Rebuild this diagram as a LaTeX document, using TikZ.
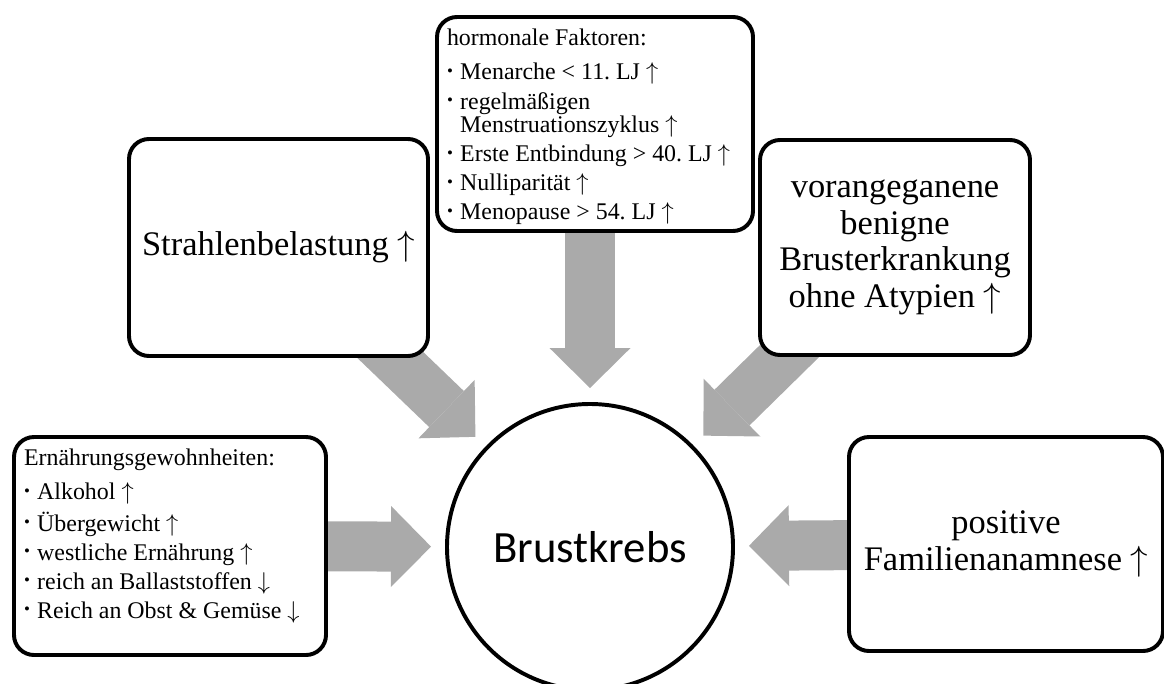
\documentclass[tikz,border=0pt]{standalone}
\usepackage{fontspec}
\setmainfont{Liberation Serif}
\newfontfamily\calibrifont{Carlito}
\usetikzlibrary{arrows.meta, backgrounds}
\definecolor{pfeilgrau}{RGB}{170,170,170}
\frenchspacing

% Pfeile im Text
\newcommand{\hoch}{$\uparrow$}
\newcommand{\runter}{$\downarrow$}
% Aufzaehlung in den Kaesten
\newcommand{\bull}{\raisebox{2.4pt}{\fontsize{12pt}{12pt}\selectfont •}}
\newcommand{\punkt}[1]{\par\hangindent=0.33cm\hangafter=1\noindent\makebox[0.33cm][l]{\bull}#1}
\newcommand{\liste}[4]{\begin{minipage}[t][#2][t]{#1}\raggedright\setlength{\parskip}{4pt}%
  #3\par\vspace{4pt}#4\end{minipage}}

\begin{document}
\begin{tikzpicture}[
    kasten/.style={draw, line width=2.8pt, rounded corners=0.5cm, fill=white, align=center,
      font=\fontsize{24.5pt}{26pt}\selectfont},
    listenkasten/.style={draw, line width=2.8pt, rounded corners=0.5cm, fill=white,
      inner xsep=0.25cm, inner ysep=0.29cm, font=\fontsize{17pt}{16.7pt}\selectfont},
    pfeil/.style={pfeilgrau, line width=1.25cm, shorten >=0.35cm,
      -{Triangle[length=1cm, width=2.025cm, line width=0pt]}}]
  \useasboundingbox (0,0) rectangle (29.1,17.075);

  \node[draw, circle, line width=2.8pt, fill=white, minimum size=7.15cm, inner sep=0pt,
    font=\calibrifont\fontsize{31.8pt}{36pt}\selectfont] (brust) at (14.75,3.4) {Brustkrebs};

  \node[kasten, minimum width=7.475cm, minimum height=5.425cm] (strahlen) at (6.9625,10.8875)
    {Strahlenbelastung \hoch};
  \node[listenkasten] (hormon) at (14.875,13.975)
    {\liste{7.4cm}{4.77cm}{hormonale Faktoren:}{%
      \punkt{Menarche < 11. LJ \hoch}
      \punkt{regelmäßigen\newline Menstruationszyklus \hoch}
      \punkt{Erste Entbindung > 40. LJ \hoch}
      \punkt{Nulliparität \hoch}
      \punkt{Menopause > 54. LJ \hoch}}};
  \node[kasten, minimum width=6.75cm, minimum height=5.375cm] (vorang) at (22.375,10.8875)
    {vorangeganene\\benigne\\Brusterkrankung\\ohne Atypien \hoch};
  \node[listenkasten] (ernaehr) at (4.25,3.425)
    {\liste{7.3cm}{4.87cm}{Ernährungsgewohnheiten:}{%
      \punkt{Alkohol \hoch}
      \punkt{Übergewicht \hoch}
      \punkt{westliche Ernährung \hoch}
      \punkt{reich an Ballaststoffen \runter}
      \punkt{Reich an Obst \& Gemüse \runter}}};
  \node[kasten, minimum width=7.85cm, minimum height=5.35cm] (familie) at (25.15,3.475)
    {positive\\Familienanamnese \hoch};

  \begin{scope}[on background layer]
    \draw[pfeil] (strahlen.center) -- (brust);
    \draw[pfeil] (brust |- hormon.center) -- (brust);
    \draw[pfeil] (vorang.center) -- (brust);
    \draw[pfeil] (ernaehr.center) -- (brust);
    \draw[pfeil] (familie.center) -- (brust);
  \end{scope}
\end{tikzpicture}
\end{document}
